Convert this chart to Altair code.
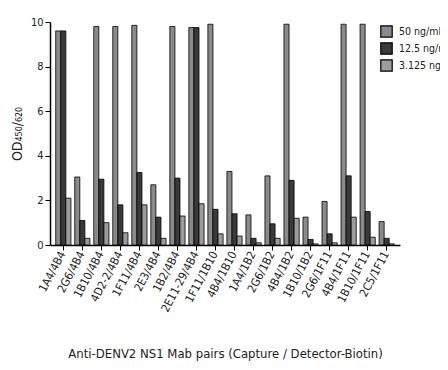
import altair as alt
import pandas as pd

pairs = ["1A4/4B4", "2G6/4B4", "1B10/4B4", "4D2-2/4B4", "1F11/4B4", "2E3/4B4",
         "1B2/4B4", "2E11-29/4B4", "1F11/1B10", "4B4/1B10", "1A4/1B2", "2G6/1B2",
         "4B4/1B2", "1B10/1B2", "2G6/1F11", "4B4/1F11", "1B10/1F11", "2C5/1F11"]
conc = ["50 ng/ml", "12.5 ng/ml", "3.125 ng/ml"]
od_50 = [9.6, 3.05, 9.8, 9.8, 9.85, 2.7, 9.8, 9.75, 9.9, 3.3, 1.35, 3.1, 9.9, 1.25, 1.95, 9.9, 9.9, 1.05]
od_12_5 = [9.6, 1.1, 2.95, 1.8, 3.25, 1.25, 3.0, 9.75, 1.6, 1.4, 0.3, 0.95, 2.9, 0.25, 0.5, 3.1, 1.5, 0.3]
od_3_125 = [2.1, 0.3, 1.0, 0.55, 1.8, 0.3, 1.3, 1.85, 0.5, 0.4, 0.1, 0.3, 1.2, 0.05, 0.1, 1.25, 0.35, 0.05]
colors = ["#8a8a8a", "#3a3a3a", "#9c9c9c"]

rows = []
for i, p in enumerate(pairs):
    for c, vals in zip(conc, [od_50, od_12_5, od_3_125]):
        rows.append({"pair": p, "conc": c, "od": vals[i]})
df = pd.DataFrame(rows)

FONT = "Liberation Sans Narrow, DejaVu Sans Condensed, Liberation Sans, Arial, sans-serif"

chart = alt.Chart(df).mark_bar(stroke="black", strokeWidth=0.8).encode(
    x=alt.X("pair:N", sort=pairs,
            scale=alt.Scale(paddingInner=0.2, paddingOuter=0.3),
            axis=alt.Axis(title="Anti-DENV2 NS1 Mab pairs (Capture / Detector-Biotin)",
                          labelAngle=-62, labelFontSize=11.5, labelFont=FONT,
                          titleFont=FONT, titleFontSize=13, titleFontWeight="normal",
                          titlePadding=34, domainColor="black", tickColor="black",
                          tickSize=5, labelColor="#222", titleColor="#222",
                          domainWidth=1.5)),
    xOffset=alt.XOffset("conc:N", sort=conc),
    y=alt.Y("od:Q", scale=alt.Scale(domain=[0, 10], nice=False),
            axis=alt.Axis(values=[0, 2, 4, 6, 8, 10], title="OD₄₅₀/₆₂₀", grid=False,
                          labelFont=FONT, labelFontSize=11, titleFont=FONT,
                          titleFontSize=14, titleFontWeight="normal", titlePadding=6,
                          domainColor="black", tickColor="black", tickSize=5,
                          labelColor="#222", titleColor="#222", domainWidth=1.5)),
    fill=alt.Fill("conc:N", sort=conc,
                  scale=alt.Scale(domain=conc, range=colors),
                  legend=alt.Legend(title=None, orient="none", legendX=330, legendY=3,
                                    symbolType="square", symbolSize=130,
                                    symbolStrokeColor="black", symbolStrokeWidth=1.2,
                                    labelFont=FONT, labelFontSize=10.5, labelColor="#222",
                                    labelOffset=6, rowPadding=0)),
).properties(
    width=350, height=223,
    autosize=alt.AutoSizeParams(type="none"),
    padding={"left": 42, "top": 14, "right": 40, "bottom": 117},
).configure_view(stroke=None)

chart.save("out.html", embed_options={"renderer": "svg", "actions": False})
